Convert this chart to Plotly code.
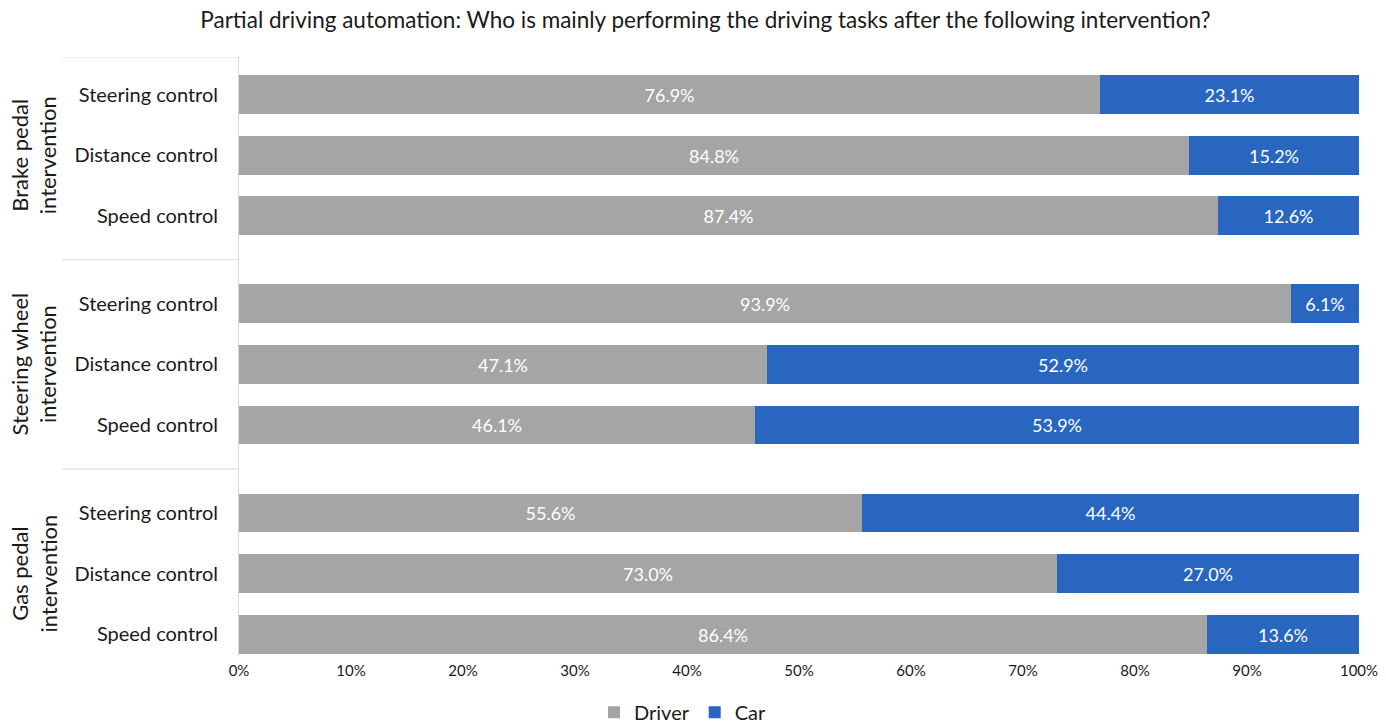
import plotly.graph_objects as go

# Survey shares (percent) per intervention group and driving task
groups = ["Brake pedal<br>intervention", "Steering wheel<br>intervention", "Gas pedal<br>intervention"]
tasks = ["Steering control", "Distance control", "Speed control"]
driver_brake = [76.9, 84.8, 87.4]
driver_wheel = [93.9, 47.1, 46.1]
driver_gas = [55.6, 73.0, 86.4]
car_brake = [23.1, 15.2, 12.6]
car_wheel = [6.1, 52.9, 53.9]
car_gas = [44.4, 27.0, 13.6]
x_ticks = [0, 10, 20, 30, 40, 50, 60, 70, 80, 90, 100]

DRIVER_COLOR = "#a5a5a5"
CAR_COLOR = "#2866bf"
FONT = "Lato"
TEXT_COLOR = "#1a1a1a"
GROUP_GAP = 0.45  # extra spacing between intervention groups, in row units

driver = driver_brake + driver_wheel + driver_gas
car = car_brake + car_wheel + car_gas
labels = tasks * len(groups)
ypos = [g * (len(tasks) + GROUP_GAP) + i for g in range(len(groups)) for i in range(len(tasks))]

fig = go.Figure()
for name, vals, color in [("Driver", driver, DRIVER_COLOR), ("Car", car, CAR_COLOR)]:
    fig.add_trace(go.Bar(
        name=name, y=ypos, x=vals, orientation="h",
        marker=dict(color=color, line=dict(width=0)),
        texttemplate="%{x:.1f}%", textposition="inside", insidetextanchor="middle",
        textfont=dict(color="white", size=18, family=FONT), width=0.64,
    ))

# Group separators on the category axis and rotated group labels
step = len(tasks) + GROUP_GAP
bounds = [ypos[0] - 0.62] + [g * step - 0.5 - GROUP_GAP / 2 for g in range(1, len(groups))]
for b in bounds:
    fig.add_shape(type="line", xref="paper", yref="y", x0=-0.158, x1=0, y0=b, y1=b,
                  line=dict(color="#d9d9d9", width=1))
for g, name in enumerate(groups):
    fig.add_annotation(xref="paper", yref="y", x=-0.183, y=g * step + (len(tasks) - 1) / 2,
                       xanchor="center", yanchor="middle",
                       text=name, textangle=-90, showarrow=False,
                       font=dict(size=22, color=TEXT_COLOR, family=FONT))

fig.update_layout(
    barmode="stack",
    width=1386, height=727,
    margin=dict(l=239, r=27, t=57, b=71, autoexpand=False),
    paper_bgcolor="white", plot_bgcolor="white",
    font=dict(family=FONT, color=TEXT_COLOR),
    title=dict(text="Partial driving automation: Who is mainly performing the driving tasks after the following intervention?",
               x=0.509, xanchor="center", y=0.972, yanchor="middle",
               font=dict(size=22.5, color=TEXT_COLOR, family=FONT)),
    legend=dict(orientation="h", x=0.396, xanchor="center", y=-0.094, yanchor="middle",
                font=dict(size=20, family=FONT), traceorder="normal"),
    bargap=0,
)
fig.update_xaxes(range=[0, 100], tickvals=x_ticks, ticktext=[f"{v}%" for v in x_ticks],
                 showgrid=False, zeroline=False, showline=False,
                 tickfont=dict(size=15, color=TEXT_COLOR), ticks="", ticklabelstandoff=4)
fig.update_yaxes(range=[ypos[-1] + 0.36, ypos[0] - 0.62], tickvals=ypos, ticktext=labels,
                 showgrid=False, zeroline=False, showline=True, linecolor="#d9d9d9", linewidth=1,
                 tickfont=dict(size=20, color=TEXT_COLOR), ticks="", ticklabelstandoff=16)

fig.write_html("out.html")
